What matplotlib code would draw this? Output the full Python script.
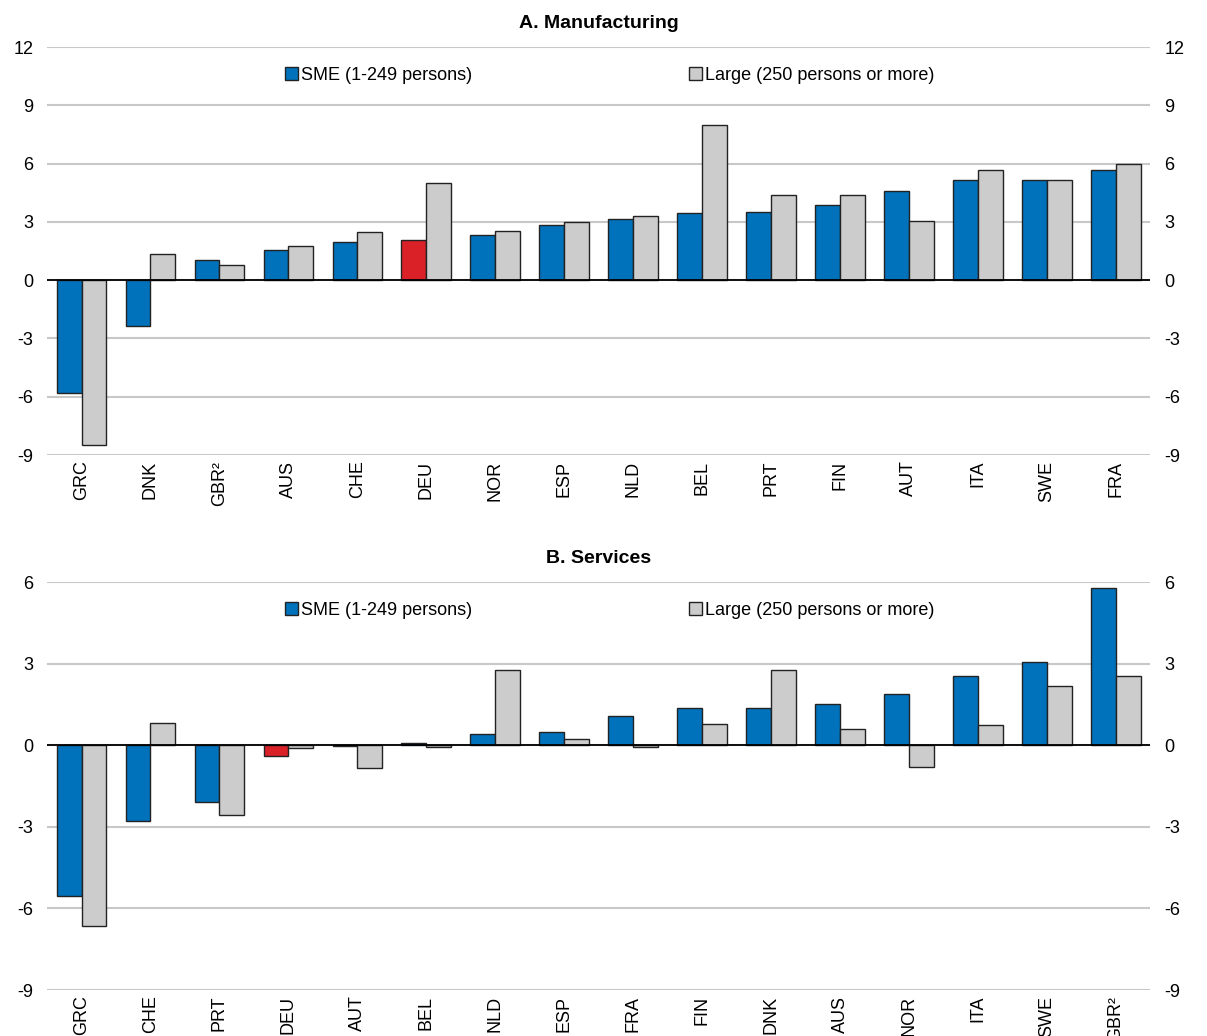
import numpy as np
import matplotlib
matplotlib.use('Agg')
import matplotlib.pyplot as plt
from matplotlib.patches import Patch

plt.rcParams['font.family'] = ['Liberation Sans Narrow', 'Liberation Sans', 'DejaVu Sans']
plt.rcParams['axes.unicode_minus'] = False

# Panel A: manufacturing
manu_countries = ['GRC', 'DNK', 'GBR²', 'AUS', 'CHE', 'DEU', 'NOR', 'ESP',
                  'NLD', 'BEL', 'PRT', 'FIN', 'AUT', 'ITA', 'SWE', 'FRA']
manu_sme = [-5.8, -2.36, 1.05, 1.56, 1.94, 2.08, 2.32, 2.85,
            3.16, 3.45, 3.52, 3.87, 4.59, 5.14, 5.14, 5.69]
manu_large = [-8.5, 1.37, 0.79, 1.78, 2.49, 4.98, 2.54, 3.01,
              3.3, 8.0, 4.38, 4.37, 3.04, 5.67, 5.14, 6.0]

# Panel B: services
serv_countries = ['GRC', 'CHE', 'PRT', 'DEU', 'AUT', 'BEL', 'NLD', 'ESP',
                  'FRA', 'FIN', 'DNK', 'AUS', 'NOR', 'ITA', 'SWE', 'GBR²']
serv_sme = [-5.55, -2.8, -2.1, -0.38, -0.04, 0.07, 0.43, 0.5,
            1.08, 1.35, 1.37, 1.5, 1.88, 2.55, 3.05, 5.78]
serv_large = [-6.64, 0.8, -2.56, -0.12, -0.82, -0.08, 2.78, 0.22,
              -0.07, 0.77, 2.77, 0.61, -0.81, 0.74, 2.18, 2.56]

blue = '#0072BB'
grey = '#CCCCCC'
red = '#DA2128'
gridc = '#C8C8C8'

fig = plt.figure(figsize=(12.07, 10.36), dpi=100)
ax1 = fig.add_axes([0.039, 0.5608, 0.914, 0.3938])
ax2 = fig.add_axes([0.039, 0.0444, 0.914, 0.3938])


def draw_panel(ax, countries, sme, large, title, ylim, ticks):
    x = np.arange(len(countries))
    w = 0.36
    colors = [red if c == 'DEU' else blue for c in countries]
    ax.bar(x - w / 2, sme, w, color=colors, edgecolor='#222222', linewidth=1.0, zorder=3)
    ax.bar(x + w / 2, large, w, color=grey, edgecolor='#222222', linewidth=1.0, zorder=3)
    ax.set_xlim(-0.5, len(countries) - 0.5)
    ax.set_ylim(*ylim)
    ax.set_yticks(ticks)
    ax.yaxis.grid(True, color=gridc, linewidth=1.5, zorder=0)
    ax.axhline(0, color='black', linewidth=1.3, zorder=4)
    for s in ax.spines.values():
        s.set_visible(False)
    ax.tick_params(axis='y', length=0, labelsize=13, labelright=True, pad=10)
    ax.tick_params(axis='x', length=0, labelsize=13, pad=4)
    ax.set_xticks(x)
    ax.set_xticklabels(countries, rotation=90)
    ax.set_title(title, fontsize=14, fontweight='bold', pad=14)
    handles = [Patch(facecolor=blue, edgecolor='#222222', label='SME (1-249 persons)'),
               Patch(facecolor=grey, edgecolor='#222222', label='Large (250 persons or more)')]
    ax.legend(handles=handles, loc='center', bbox_to_anchor=(0.51, 0.93), ncol=2,
              frameon=False, fontsize=13, handlelength=0.7, handleheight=0.7,
              handletextpad=0.2, columnspacing=12.0)


draw_panel(ax1, manu_countries, manu_sme, manu_large, 'A. Manufacturing',
           (-9, 12), [-9, -6, -3, 0, 3, 6, 9, 12])
draw_panel(ax2, serv_countries, serv_sme, serv_large, 'B. Services',
           (-9, 6), [-9, -6, -3, 0, 3, 6])

fig.savefig('out.png', dpi=100)
